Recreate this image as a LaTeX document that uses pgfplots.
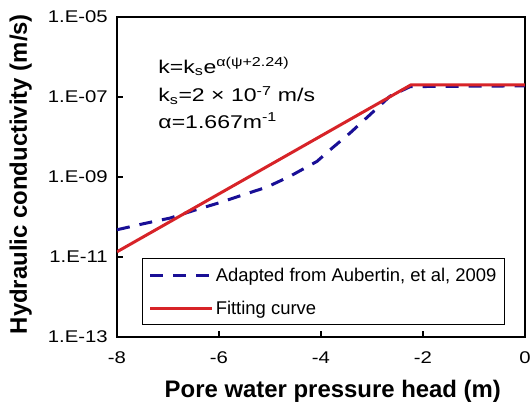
\documentclass[border=0pt]{standalone}
\usepackage{pgfplots}
\pgfplotsset{compat=1.18}
\usepackage{fontspec}
\setmainfont{Liberation Sans}
\newfontfamily\tickfont[FakeStretch=1.2]{Liberation Sans}
\newfontfamily\annfont[FakeStretch=1.25]{Liberation Sans}
\definecolor{navyb}{RGB}{25,15,150}
\definecolor{redc}{RGB}{215,35,40}
\begin{document}
\begin{tikzpicture}
\begin{axis}[
 scale only axis, width=408bp, height=320bp,
 xmin=-8, xmax=0, ymin=1e-13, ymax=1e-5, ymode=log,
 xtick={-8,-6,-4,-2,0},
 ytick={1e-13,1e-11,1e-9,1e-7,1e-5},
 yticklabels={1.E-13,1.E-11,1.E-09,1.E-07,1.E-05},
 yminorticks=false,
 tick align=inside, xtick pos=bottom, ytick pos=left,
 major tick length=6bp,
 axis line style={line width=1.5bp},
 every tick/.style={black, line width=1.2bp},
 tick label style={font=\tickfont\fontsize{17}{20}\selectfont},
 yticklabel style={anchor=east, inner sep=0bp, xshift=-9bp},
 xticklabel style={anchor=base, inner sep=0bp, yshift=-26bp},
 /pgf/number format/assume math mode=true,
 xlabel={Pore water pressure head (m)},
 ylabel={Hydraulic conductivity (m/s)},
 label style={font=\fontsize{24}{28}\selectfont\bfseries},
 xlabel style={at={(axis description cs:0.529,0)}, anchor=base, inner sep=0bp, yshift=-60bp},
 ylabel style={at={(axis description cs:-0.2206,0.509)}, anchor=base, inner sep=0bp},
 legend style={at={(0.951,0.0375)}, anchor=south east, font=\fontsize{18.5}{22}\selectfont, draw=black, line width=1bp, row sep=14bp, inner xsep=6bp, inner ysep=7bp},
 legend cell align=left,
 legend image code/.code={\draw[#1] (0bp,0bp) -- (57bp,0bp); \path (0bp,0bp) -- (62bp,0bp);},
]
\addplot[navyb, line width=3bp, dash pattern=on 13bp off 10bp] coordinates {
 (-8,4.8e-11) (-7.48,6.8e-11) (-6.96,9.4e-11) (-6.5,1.45e-10) (-5.98,2.3e-10)
 (-5.52,3.6e-10) (-5.06,5.6e-10) (-4.61,1.04e-9) (-4.08,2.45e-9) (-3.82,4.8e-9)
 (-3.43,1.26e-8) (-3.04,3.6e-8) (-2.65,1.04e-7) (-2.25,1.82e-7) (0,1.9e-7)
};
\addlegendentry{Adapted from Aubertin, et al, 2009}
\addplot[redc, line width=3bp] coordinates {
 (-8,1.35e-11) (-2.24,2e-7) (0,2e-7)
};
\addlegendentry{Fitting curve}
\node[anchor=base west, font=\annfont\fontsize{18.5}{22}\selectfont] at (rel axis cs:0.093,0.825) {k=k\textsubscript{s}e\textsuperscript{α(ψ+2.24)}};
\node[anchor=base west, font=\annfont\fontsize{18.5}{22}\selectfont] at (rel axis cs:0.093,0.735) {k\textsubscript{s}=2 × 10\textsuperscript{-7} m/s};
\node[anchor=base west, font=\annfont\fontsize{18.5}{22}\selectfont] at (rel axis cs:0.093,0.653) {α=1.667m\textsuperscript{-1}};
\end{axis}
\pgfresetboundingbox
\useasboundingbox (-117bp,-67bp) rectangle (413bp,337bp);
\end{tikzpicture}
\end{document}
